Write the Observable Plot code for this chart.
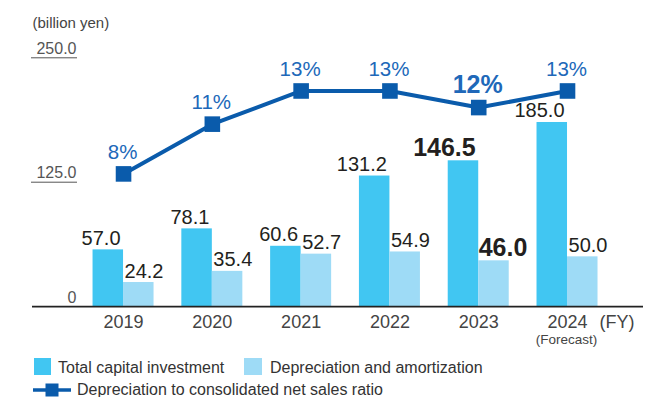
<!DOCTYPE html>
<html>
<head>
<meta charset="utf-8">
<script src="https://cdn.jsdelivr.net/npm/d3@7"></script>
<script src="https://cdn.jsdelivr.net/npm/@observablehq/plot@0.6"></script>
<style>
  html, body { margin: 0; padding: 0; background: #fff; }
  #wrap { position: relative; width: 659px; height: 397px; font-family: "Liberation Sans", Arial, sans-serif; overflow: hidden; }
  #legend { position: absolute; left: 0; top: 0; width: 659px; height: 397px; pointer-events: none; }
  .sw { position: absolute; width: 17px; height: 17px; }
  .lt { position: absolute; font-size: 16px; line-height: 16px; color: #333; white-space: nowrap; }
</style>
</head>
<body>
<div id="wrap">
  <div id="chart"></div>
  <div id="legend"></div>
</div>
<script>
// ---- data ----
const years = ["2019", "2020", "2021", "2022", "2023", "2024"];
const capital = [57.0, 78.1, 60.6, 131.2, 146.5, 185.0];
const depreciation = [24.2, 35.4, 52.7, 54.9, 46.0, 50.0];
const ratio = [8, 11, 13, 13, 12, 13];
const yTicks = [0, 125, 250];
const yMax = 250;
const ratioAxisMax = 15;          // hidden secondary axis: 15% ↔ 250.0
const highlightYear = "2023";
const forecastYear = "2024";
const seriesNames = ["Total capital investment", "Depreciation and amortization", "Depreciation to consolidated net sales ratio"];

// ---- styles ----
const cCap = "#41c6f2";
const cDep = "#9edbf6";
const cLine = "#0a5bab";
const cPct = "#2068b9";
const cText = "#231f20";

const data = years.map((year, i) => ({year, capital: capital[i], depreciation: depreciation[i], ratio: ratio[i]}));
const toY = r => r * yMax / ratioAxisMax;
const norm = data.filter(d => d.year !== highlightYear);
const hi = data.filter(d => d.year === highlightYear);
const half = 30.5;

const plot = Plot.plot({
  width: 659,
  height: 350,
  marginTop: 57.3,
  marginBottom: 43.9,
  marginLeft: 32,
  marginRight: 16,
  style: {fontFamily: "'Liberation Sans', Arial, sans-serif", background: "white", overflow: "visible"},
  x: {type: "band", domain: years, paddingInner: 0.313, paddingOuter: 0.597, align: 0.571, round: false, axis: null},
  y: {domain: [0, yMax], axis: null},
  marks: [
    Plot.barY(data, {x: "year", y: "capital", fill: cCap, insetRight: half, insetLeft: 0}),
    Plot.barY(data, {x: "year", y: "depreciation", fill: cDep, insetLeft: half, insetRight: 0}),
    Plot.ruleY([0], {stroke: "#222", strokeWidth: 1.6}),
    Plot.ruleY(yTicks.filter(t => t > 0), {y: d => d, stroke: "#555", strokeWidth: 1, insetRight: 566, insetLeft: -1}),
    Plot.text(yTicks, {y: d => d, text: d => d === 0 ? "0" : d.toFixed(1), frameAnchor: "left", textAnchor: "end", lineAnchor: "bottom", dx: 44, dy: -4, fontSize: 16, fill: "#555"}),
    Plot.text(["(billion yen)"], {frameAnchor: "top-left", textAnchor: "start", lineAnchor: "bottom", dx: 0, dy: -30, fontSize: 15, fill: "#444"}),
    // x tick labels
    Plot.text(years, {x: d => d, text: d => d, frameAnchor: "bottom", lineAnchor: "bottom", dy: 21, fontSize: 18, fill: "#444"}),
    Plot.text([forecastYear], {x: d => d, text: () => "(Forecast)", frameAnchor: "bottom", lineAnchor: "bottom", dx: -1, dy: 37, fontSize: 13.5, fill: "#444"}),
    Plot.text(["(FY)"], {frameAnchor: "bottom-right", textAnchor: "end", lineAnchor: "bottom", dx: -9, dy: 21, fontSize: 18, fill: "#444"}),
    // bar value labels
    Plot.text(norm, {x: "year", y: "capital", text: d => d.capital.toFixed(1), textAnchor: "end", lineAnchor: "bottom", dx: -3, dy: -5, fontSize: 20, fill: cText}),
    Plot.text(norm, {x: "year", y: "depreciation", text: d => d.depreciation.toFixed(1), textAnchor: "start", lineAnchor: "bottom", dx: 1, dy: -5, fontSize: 20, fill: cText}),
    Plot.text(hi, {x: "year", y: "capital", text: d => d.capital.toFixed(1), textAnchor: "end", lineAnchor: "bottom", dx: -3, dy: -5, fontSize: 25, fontWeight: "bold", fill: cText}),
    Plot.text(hi, {x: "year", y: "depreciation", text: d => d.depreciation.toFixed(1), textAnchor: "start", lineAnchor: "bottom", dx: 0, dy: -5, fontSize: 25, fontWeight: "bold", fill: cText}),
    // ratio line
    Plot.line(data, {x: "year", y: d => toY(d.ratio), stroke: cLine, strokeWidth: 4}),
    Plot.dot(data, {x: "year", y: d => toY(d.ratio), symbol: "square", r: 8.8, fill: cLine, stroke: "none"}),
    Plot.text(norm, {x: "year", y: d => toY(d.ratio), text: d => d.ratio + "%", lineAnchor: "bottom", dx: -1, dy: -15, fontSize: 20.5, fill: cPct}),
    Plot.text(hi, {x: "year", y: d => toY(d.ratio), text: d => d.ratio + "%", lineAnchor: "bottom", dx: -1, dy: -15, fontSize: 25, fontWeight: "bold", fill: cPct})
  ]
});
document.getElementById("chart").appendChild(plot);

// ---- legend (HTML) ----
const lg = document.getElementById("legend");
lg.innerHTML = `
  <div class="sw" style="left:34px;top:358px;background:${cCap}"></div>
  <div class="lt" style="left:58px;top:360px">${seriesNames[0]}</div>
  <div class="sw" style="left:244px;top:358px;width:18px;background:${cDep}"></div>
  <div class="lt" style="left:270px;top:360px">${seriesNames[1]}</div>
  <svg style="position:absolute;left:33px;top:383px" width="40" height="14">
    <line x1="0" x2="38" y1="7" y2="7" stroke="${cLine}" stroke-width="3.5"></line>
    <rect x="12.5" y="0.5" width="13" height="13" fill="${cLine}"></rect>
  </svg>
  <div class="lt" style="left:77px;top:382px">${seriesNames[2]}</div>
`;
</script>
</body>
</html>
